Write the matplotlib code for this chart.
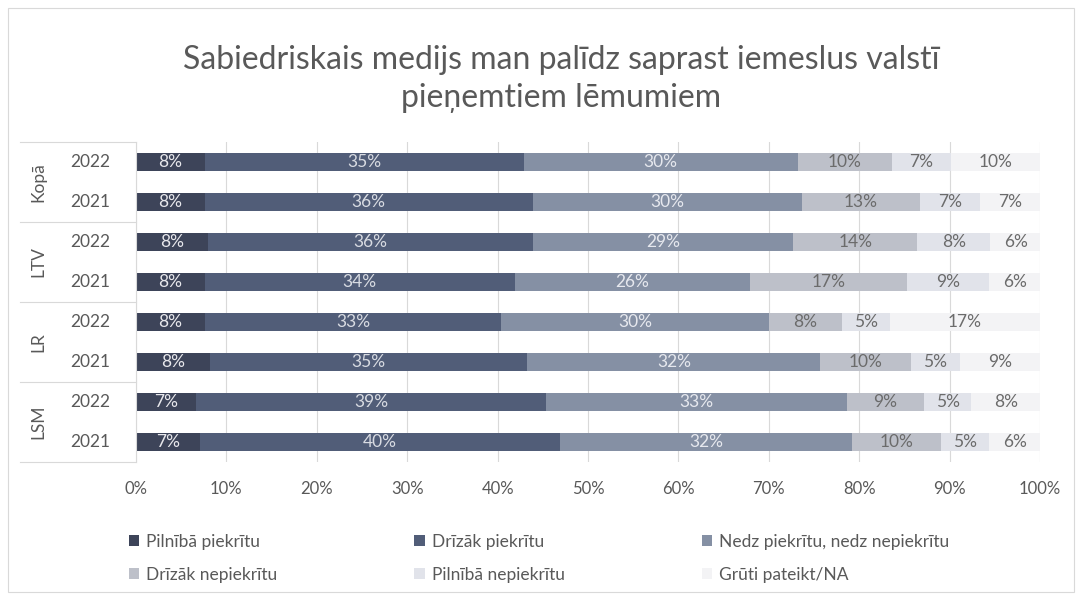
import numpy as np
import matplotlib.pyplot as plt
from matplotlib.patches import Patch

plt.rcParams['font.family'] = ['Lato', 'DejaVu Sans']

groups = ["Kopā", "LTV", "LR", "LSM"]
years = ["2022", "2021"]
categories = ["Pilnībā piekrītu", "Drīzāk piekrītu", "Nedz piekrītu, nedz nepiekrītu",
              "Drīzāk nepiekrītu", "Pilnībā nepiekrītu", "Grūti pateikt/NA"]

# rows in order top -> bottom: Kopā 2022, Kopā 2021, LTV 2022, ...
pilniba_piekritu = [7.6, 7.6, 8.0, 7.6, 7.6, 8.2, 6.6, 7.1]
drizak_piekritu = [35.3, 36.3, 35.9, 34.3, 32.8, 35.1, 38.8, 39.8]
nedz = [30.3, 29.8, 28.8, 26.0, 29.6, 32.4, 33.2, 32.3]
drizak_nepiekritu = [10.4, 13.0, 13.7, 17.4, 8.1, 10.0, 8.6, 9.8]
pilniba_nepiekritu = [6.6, 6.7, 8.1, 9.1, 5.3, 5.4, 5.2, 5.4]
gruti = [9.8, 6.6, 5.6, 5.6, 16.6, 8.9, 7.6, 5.6]

series = [pilniba_piekritu, drizak_piekritu, nedz, drizak_nepiekritu, pilniba_nepiekritu, gruti]
colors = ["#3d4459", "#515d78", "#8590a4", "#bdc0c9", "#e1e3ea", "#f3f3f5"]
text_colors = ["#e8e8ec", "#d8dbe2", "#e6e8ee", "#6b6b6b", "#6b6b6b", "#6b6b6b"]

W, H = 1081, 598
fig = plt.figure(figsize=(W / 100, H / 100), dpi=100)
fig.patches.append(plt.Rectangle((8 / W, 6 / H), 1066 / W, 584 / H, transform=fig.transFigure,
                                 fill=False, edgecolor="#d9d9d9", lw=0.8))

ax = fig.add_axes([136 / W, 1 - 462 / H, (1040 - 136) / W, (462 - 142) / H])
n = len(pilniba_piekritu)
y = np.arange(n)
left = np.zeros(n)
for vals, c, tc in zip(series, colors, text_colors):
    vals = np.array(vals)
    ax.barh(y, vals, left=left, height=0.43, color=c, edgecolor="none", zorder=2)
    for yi, l, v in zip(y, left, vals):
        ax.text(l + v / 2, yi, f"{v:.0f}%", ha="center", va="center", fontsize=12.5,
                color=tc, zorder=3)
    left += vals

ax.set_xlim(0, 100)
ax.set_ylim(n - 0.5, -0.5)
ax.set_xticks(np.arange(0, 101, 10))
ax.set_xticklabels([f"{t}%" for t in range(0, 101, 10)])
ax.tick_params(axis="x", length=0, labelsize=12, labelcolor="#595959", pad=14)
ax.set_yticks([])
ax.grid(axis="x", color="#d9d9d9", lw=0.8, zorder=0)
for s in ax.spines.values():
    s.set_visible(False)

# year labels and group labels
for i in range(n):
    ax.text(-0.028, 1 - (i + 0.5) / n, years[i % 2], transform=ax.transAxes,
            ha="right", va="center", fontsize=12.5, color="#595959")
for g, name in enumerate(groups):
    ax.text(-0.108, 1 - (2 * g + 1) / n, name, transform=ax.transAxes, rotation=90,
            ha="center", va="center", fontsize=12.5, color="#595959")
x0 = (20 - 136) / (1040 - 136)
for g in range(len(groups) + 1):
    yy = 1 - 2 * g / n
    ax.plot([x0, 0], [yy, yy], transform=ax.transAxes, color="#d9d9d9", lw=0.8, clip_on=False)
ax.plot([0, 0], [0, 1], transform=ax.transAxes, color="#d9d9d9", lw=0.8, clip_on=False)

fig.text(561 / W, 1 - 79 / H, "Sabiedriskais medijs man palīdz saprast iemeslus valstī\npieņemtiem lēmumiem",
         ha="center", va="center", fontsize=23, color="#595959", linespacing=1.3)

# legend fills column by column, reorder so it reads row by row
order = [0, 3, 1, 4, 2, 5]
handles = [Patch(facecolor=colors[i], edgecolor="none") for i in order]
labels = [categories[i] for i in order]
fig.legend(handles, labels, ncol=3, loc="upper left", bbox_to_anchor=(113 / W, 1 - 518 / H),
           frameon=False, fontsize=12.5, labelcolor="#595959", handlelength=0.6, handleheight=0.6,
           handletextpad=0.4, columnspacing=7.9, labelspacing=1.0)

fig.savefig("out.png", dpi=100)
